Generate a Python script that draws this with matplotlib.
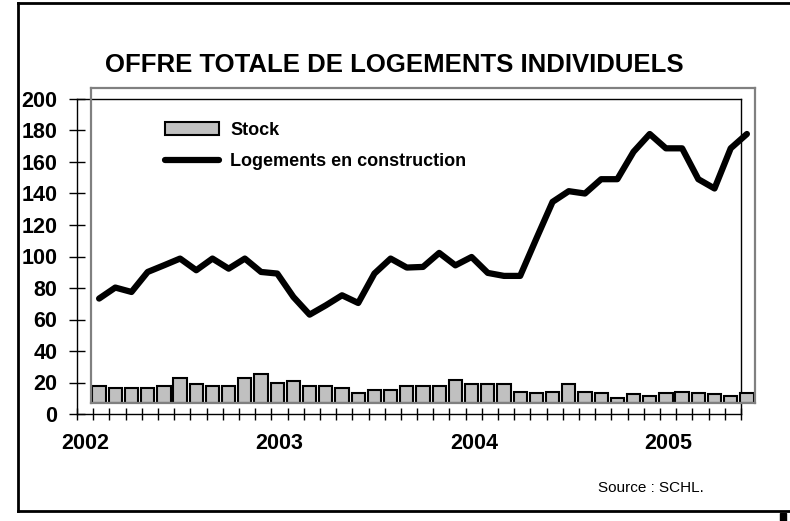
import numpy as np
import matplotlib
matplotlib.use('Agg')
import matplotlib.pyplot as plt
from matplotlib.lines import Line2D
from matplotlib.patches import Rectangle
import matplotlib.transforms as mtransforms

plt.rcParams['font.family'] = ['Liberation Sans', 'DejaVu Sans']

# monthly data, Jan 2002 - May 2005
stock = [10.5, 9.4, 9.4, 9.4, 10.5, 15.8, 11.8, 10.5, 10.5, 15.8, 18.6, 12.6,
         13.7, 10.5, 10.5, 9.4, 6.5, 8.4, 8.4, 10.5, 10.5, 10.5, 14.7, 11.8,
         11.8, 11.8, 7.3, 6.5, 7.3, 11.8, 7.3, 6.5, 3.3, 5.4, 4.3, 6.5,
         7.3, 6.5, 5.4, 4.3, 6.5]
construction = [66.3, 73.3, 70.5, 83.2, 87.4, 91.7, 84.3, 91.7, 85.3, 91.7, 83.2, 82.2,
                67.3, 56.1, 62.0, 68.4, 63.5, 82.2, 91.7, 86.0, 86.4, 95.3, 87.4, 92.7,
                82.6, 80.7, 80.7, 104.4, 127.7, 134.5, 133.0, 142.1, 142.1, 159.5, 170.8, 161.7,
                161.7, 142.1, 136.2, 161.7, 170.8]
years = ['2002', '2003', '2004', '2005']
yticks = list(range(0, 201, 20))
title = 'OFFRE TOTALE DE LOGEMENTS INDIVIDUELS'

W, H = 790, 521
fig = plt.figure(figsize=(W / 100, H / 100), dpi=100)

def box(l, t, r, b):
    return [l / W, 1 - b / H, (r - l) / W, (b - t) / H]

n = len(stock)
x = np.arange(n)

# front axes: ticks and labels
axf = fig.add_axes(box(77, 99, 741, 414))
axf.set_xlim(0, n)
axf.set_ylim(0, 200)
axf.set_yticks(yticks)
axf.set_yticklabels([str(v) for v in yticks], fontsize=15.5, fontweight='bold')
axf.set_xticks(np.arange(0, n + 1))
axf.set_xticklabels([])
axf.tick_params(axis='y', direction='inout', length=11, width=1, pad=8.5)
axf.tick_params(axis='x', direction='inout', length=9, width=1)
for s in axf.spines.values():
    s.set_color('black')
    s.set_linewidth(1.0)
trans = mtransforms.blended_transform_factory(axf.transData, axf.transAxes)
for k, yr in enumerate(years):
    axf.text(12 * k + 0.5, -0.095, yr, transform=trans, ha='center', va='center',
             fontsize=15.5, fontweight='bold')

# back axes: data
axb = fig.add_axes(box(91, 88, 755, 403))
axb.set_facecolor('none')
axb.set_xlim(-0.5, n - 0.5)
axb.set_ylim(0, 200)
axb.set_xticks([])
axb.set_yticks([])
for s in axb.spines.values():
    s.set_color('#808080')
    s.set_linewidth(1.6)
bars = axb.bar(x, stock, width=0.82, color='#c0c0c0', edgecolor='black', linewidth=1.5,
               label='Stock', zorder=2)
line, = axb.plot(x, construction, color='black', linewidth=4.5, solid_capstyle='round',
                 label='Logements en construction', zorder=3)
leg = axb.legend(handles=[bars, line], loc='upper left',
                 bbox_to_anchor=(165 / W, 1 - 122 / H),
                 bbox_transform=fig.transFigure, frameon=False, borderpad=0,
                 borderaxespad=0, handlelength=3.0, handletextpad=0.6,
                 labelspacing=0.78, prop={'size': 13, 'weight': 'bold'})

fig.text(394.5 / W, 1 - 65 / H, title, ha='center', va='center',
         fontsize=18.5, fontweight='bold')
fig.text(598 / W, 1 - 488 / H, 'Source : SCHL.', ha='left', va='center', fontsize=11)

# outer frame
lw = 2.0
fig.add_artist(Line2D([18 / W, 18 / W], [1 - 3 / H, 1 - 511 / H], color='black', lw=lw))
fig.add_artist(Line2D([18 / W, 1], [1 - 3 / H, 1 - 3 / H], color='black', lw=lw))
fig.add_artist(Line2D([18 / W, 1], [1 - 511 / H, 1 - 511 / H], color='black', lw=lw))
fig.add_artist(Rectangle((780 / W, 0), 6 / W, 8 / H, transform=fig.transFigure,
                         color='black'))

fig.savefig('out.png', dpi=100)
